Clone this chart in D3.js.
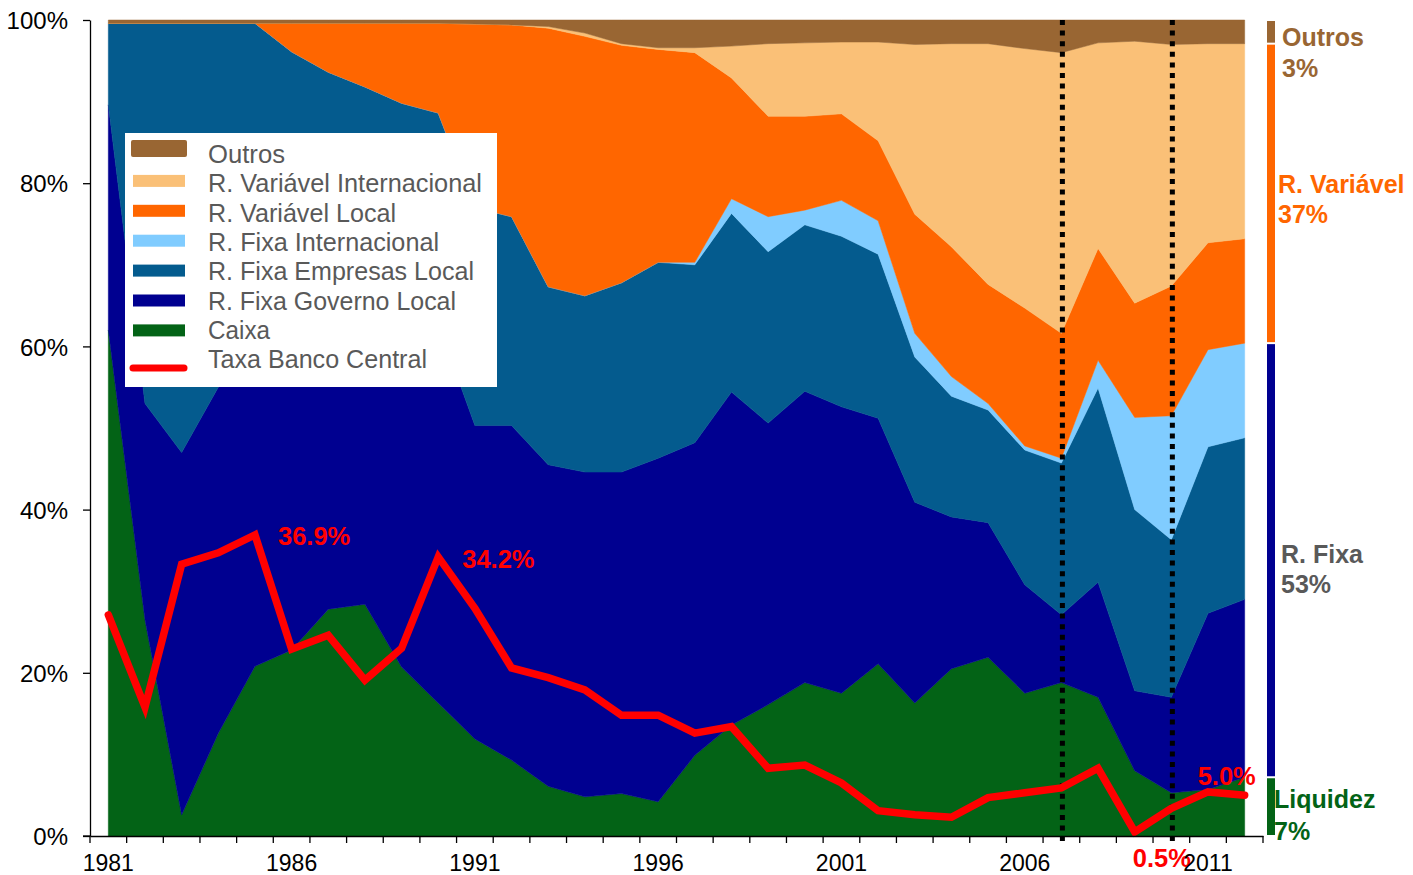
<!DOCTYPE html>
<html><head><meta charset="utf-8">
<script src="https://cdn.jsdelivr.net/npm/d3@7"></script>
<style>body{margin:0;background:#fff}svg{display:block}text{font-family:"Liberation Sans",Arial,sans-serif}</style>
</head><body><svg id="c" width="1413" height="875"></svg>
<script>
const years = d3.range(1981, 2013);
const xTickLabels = ["1981","1986","1991","1996","2001","2006","2011"];
const yTickValues = [0,20,40,60,80,100];
const seriesNames = ["Caixa","R. Fixa Governo Local","R. Fixa Empresas Local","R. Fixa Internacional","R. Variável Local","R. Variável Internacional","Outros"];
const caixa = [62,26.5,2.6,12.6,20.8,22.8,27.8,28.4,20.7,16.3,11.9,9.3,6.1,4.8,5.2,4.2,9.9,13.6,16.1,18.8,17.5,21.1,16.3,20.5,21.9,17.5,18.8,17.0,8.0,5.3,5.7,7.2];
const fixaGoverno = [27.6,26.5,44.4,42.4,37.2,37.2,34.2,34.6,42.3,46.4,38.4,41.0,39.4,39.8,39.4,42.1,38.3,40.8,34.5,35.7,35.1,30.1,24.6,18.6,16.5,13.3,8.3,14.1,9.8,11.7,21.6,21.8];
const fixaEmpresas = [10,46.6,52.6,44.6,41.6,36.1,31.6,28.8,26.8,25.9,26.7,25.6,21.8,21.6,23.2,24.0,21.8,21.9,21.0,20.4,20.9,20.1,17.8,14.8,13.8,16.5,18.6,23.8,22.2,19.3,20.4,19.8];
const fixaInternacional = [0,0,0,0,0,0,0,0,0,0,0,0,0,0,0,0,0.3,1.8,4.3,1.8,4.4,4.1,2.9,2.4,0.8,0.5,0.6,3.4,11.3,15.2,11.9,11.6];
const variavelLocal = [0,0,0,0,0,3.5,6.0,7.8,9.8,11.0,22.5,23.5,31.7,31.8,29.1,26.1,25.7,14.8,12.3,11.5,10.6,9.8,14.6,15.9,14.6,16.9,15.3,13.7,14.0,15.9,13.1,12.8];
const variavelInternacional = [0,0,0,0,0,0,0,0,0,0,0,0,0.2,0.4,0.2,0.2,0.6,3.9,8.9,9.0,8.8,12.1,20.8,24.9,29.5,31.8,34.4,25.2,32.1,29.6,24.4,23.9];
const outros = [0.4,0.4,0.4,0.4,0.4,0.4,0.4,0.4,0.4,0.4,0.5,0.6,0.8,1.6,2.9,3.4,3.4,3.2,2.9,2.8,2.7,2.7,3.0,2.9,2.9,3.5,4.0,2.8,2.6,3.0,2.9,2.9];
const taxaBancoCentral = [27.1,15.8,33.3,34.7,36.9,22.9,24.6,19.1,23.0,34.2,27.9,20.6,19.4,17.9,14.8,14.8,12.6,13.4,8.3,8.7,6.5,3.1,2.6,2.3,4.7,5.3,5.9,8.3,0.5,3.4,5.4,5.0];
const rateLabels = [{year:1985,text:"36.9%"},{year:1990,text:"34.2%"},{year:2012,text:"5.0%"},{year:2009,text:"0.5%"}];
const markerYears = [2007, 2010];
const sideGroups = [
  {name:"Outros", pct:"3%", keys:["Outros"]},
  {name:"R. Variável", pct:"37%", keys:["R. Variável Local","R. Variável Internacional"]},
  {name:"R. Fixa", pct:"53%", keys:["R. Fixa Governo Local","R. Fixa Empresas Local","R. Fixa Internacional"]},
  {name:"Liquidez", pct:"7%", keys:["Caixa"]}
];

const colors = {"Caixa":"#036316","R. Fixa Governo Local":"#000090","R. Fixa Empresas Local":"#045b8e","R. Fixa Internacional":"#80ccff","R. Variável Local":"#ff6600","R. Variável Internacional":"#fac077","Outros":"#996633"};
const sideColors = {"Outros":"#996633","R. Variável":"#ff6600","R. Fixa":"#595959","Liquidez":"#036316"};
const sideBarColors = {"Outros":"#996633","R. Variável":"#ff6600","R. Fixa":"#000090","Liquidez":"#036316"};

const arrs = [caixa,fixaGoverno,fixaEmpresas,fixaInternacional,variavelLocal,variavelInternacional,outros];
const data = years.map((y,i)=>{const o={year:y}; seriesNames.forEach((k,j)=>o[k]=arrs[j][i]); return o;});

const svg = d3.select("#c");
const x = d3.scaleBand().domain(years).range([90,1263]).padding(0);
const xc = d => x(d) + x.bandwidth()/2;
const y = d3.scaleLinear().domain([0,100]).range([836,20]);

const stack = d3.stack().keys(seriesNames)(data);
const area = d3.area().x(d=>xc(d.data.year)).y0(d=>y(d[0])).y1(d=>y(d[1]));
svg.append("g").selectAll("path").data(stack).join("path")
  .attr("d", area).attr("fill", d=>colors[d.key]).attr("stroke", d=>colors[d.key]).attr("stroke-width",0.5);

// axes
const yAxis = d3.axisLeft(y).tickValues(yTickValues).tickFormat(d=>d+"%").tickSize(7).tickSizeOuter(0);
const gy = svg.append("g").attr("transform","translate(90,0)").call(yAxis);
gy.select(".domain").attr("stroke","#000").attr("stroke-width",1.3);
gy.selectAll(".tick line").attr("stroke","#000").attr("stroke-width",1.3);
gy.selectAll(".tick text").attr("font-size",24).attr("fill","#000").attr("x",-22).attr("dy","0.36em").style("font-family","Liberation Sans, Arial");

// dotted markers
svg.append("g").selectAll("line").data(markerYears).join("line")
  .attr("x1",d=>xc(d)+1).attr("x2",d=>xc(d)+1).attr("y1",20).attr("y2",841)
  .attr("stroke","#000").attr("stroke-width",5).attr("stroke-dasharray","5,5.6");

// rate line
const line = d3.line().x((d,i)=>xc(years[i])).y(d=>y(d));
svg.append("path").datum(taxaBancoCentral).attr("d",line).attr("fill","none")
  .attr("stroke","#ff0000").attr("stroke-width",7.5).attr("stroke-linejoin","miter").attr("stroke-linecap","round");

// rate labels
const labelOffsets = {1985:[23,10], 1990:[24,11], 2012:[-47,-10], 2009:[-2,35]};
svg.append("g").selectAll("text").data(rateLabels).join("text")
  .attr("x",d=>xc(d.year)+labelOffsets[d.year][0])
  .attr("y",d=>y(taxaBancoCentral[years.indexOf(d.year)])+labelOffsets[d.year][1])
  .attr("fill","#ff0000").attr("font-weight","bold").attr("font-size",25.5).text(d=>d.text);

// x axis
const xAxis = d3.axisBottom(x).tickValues([]).tickSizeOuter(0);
const gx = svg.append("g").attr("transform","translate(0,836)").call(xAxis);
gx.select(".domain").attr("stroke","#000").attr("stroke-width",1.3);
svg.append("line").attr("x1",83).attr("x2",90).attr("y1",836).attr("y2",836).attr("stroke","#000").attr("stroke-width",1.3);
const boundaries = years.map(yy=>x(yy)).concat([x(2012)+x.bandwidth()]);
svg.append("g").selectAll("line").data(boundaries).join("line")
  .attr("x1",d=>d).attr("x2",d=>d).attr("y1",836).attr("y2",843).attr("stroke","#000").attr("stroke-width",1.3);
svg.append("g").selectAll("text").data(xTickLabels).join("text")
  .attr("x",d=>xc(+d)).attr("y",871).attr("text-anchor","middle").attr("font-size",23).attr("fill","#000").text(d=>d);

// legend
const lg = svg.append("g");
lg.append("rect").attr("x",125).attr("y",133).attr("width",372).attr("height",254).attr("fill","#fff");
const legendItems = ["Outros","R. Variável Internacional","R. Variável Local","R. Fixa Internacional","R. Fixa Empresas Local","R. Fixa Governo Local","Caixa","Taxa Banco Central"];
const legendWidths = [77,274,188,231,266,248,62,219];
legendItems.forEach((name,i)=>{
  const baseY = 163 + i*29.3;
  if (name==="Taxa Banco Central") {
    lg.append("line").attr("x1",133).attr("x2",184).attr("y1",368).attr("y2",368).attr("stroke","#ff0000").attr("stroke-width",7).attr("stroke-linecap","round");
  } else if (name==="Outros") {
    lg.append("rect").attr("x",131).attr("y",140).attr("width",56).attr("height",17).attr("rx",2).attr("fill",colors[name]);
  } else {
    lg.append("rect").attr("x",133).attr("y",baseY-18+i*0.6).attr("width",52).attr("height",12).attr("fill",colors[name]);
  }
  lg.append("text").attr("x",208).attr("y",baseY).attr("font-size",25).attr("fill","#595959")
    .attr("textLength",legendWidths[i]).attr("lengthAdjust","spacingAndGlyphs").text(name);
});

// side bars
const last = data[data.length-1];
let cum = 0;
const groupsBottomUp = sideGroups.slice().reverse();
const sideLayout = {"Outros":[1282,46,77],"R. Variável":[1278,193,223],"R. Fixa":[1281,563,593],"Liquidez":[1274,808,840]};
groupsBottomUp.forEach(g=>{
  const v = d3.sum(g.keys,k=>last[k]);
  const y0 = y(cum), y1 = y(cum+v);
  svg.append("rect").attr("x",1267).attr("width",8).attr("y",y1+1).attr("height",Math.max(0,y0-y1-2)).attr("fill",sideBarColors[g.name]);
  cum += v;
  const L = sideLayout[g.name];
  svg.append("text").attr("x",L[0]).attr("y",L[1]).attr("font-size",25).attr("font-weight","bold").attr("fill",sideColors[g.name]).text(g.name);
  svg.append("text").attr("x",L[0]).attr("y",L[2]).attr("font-size",25).attr("font-weight","bold").attr("fill",sideColors[g.name]).text(g.pct);
});
</script></body></html>
